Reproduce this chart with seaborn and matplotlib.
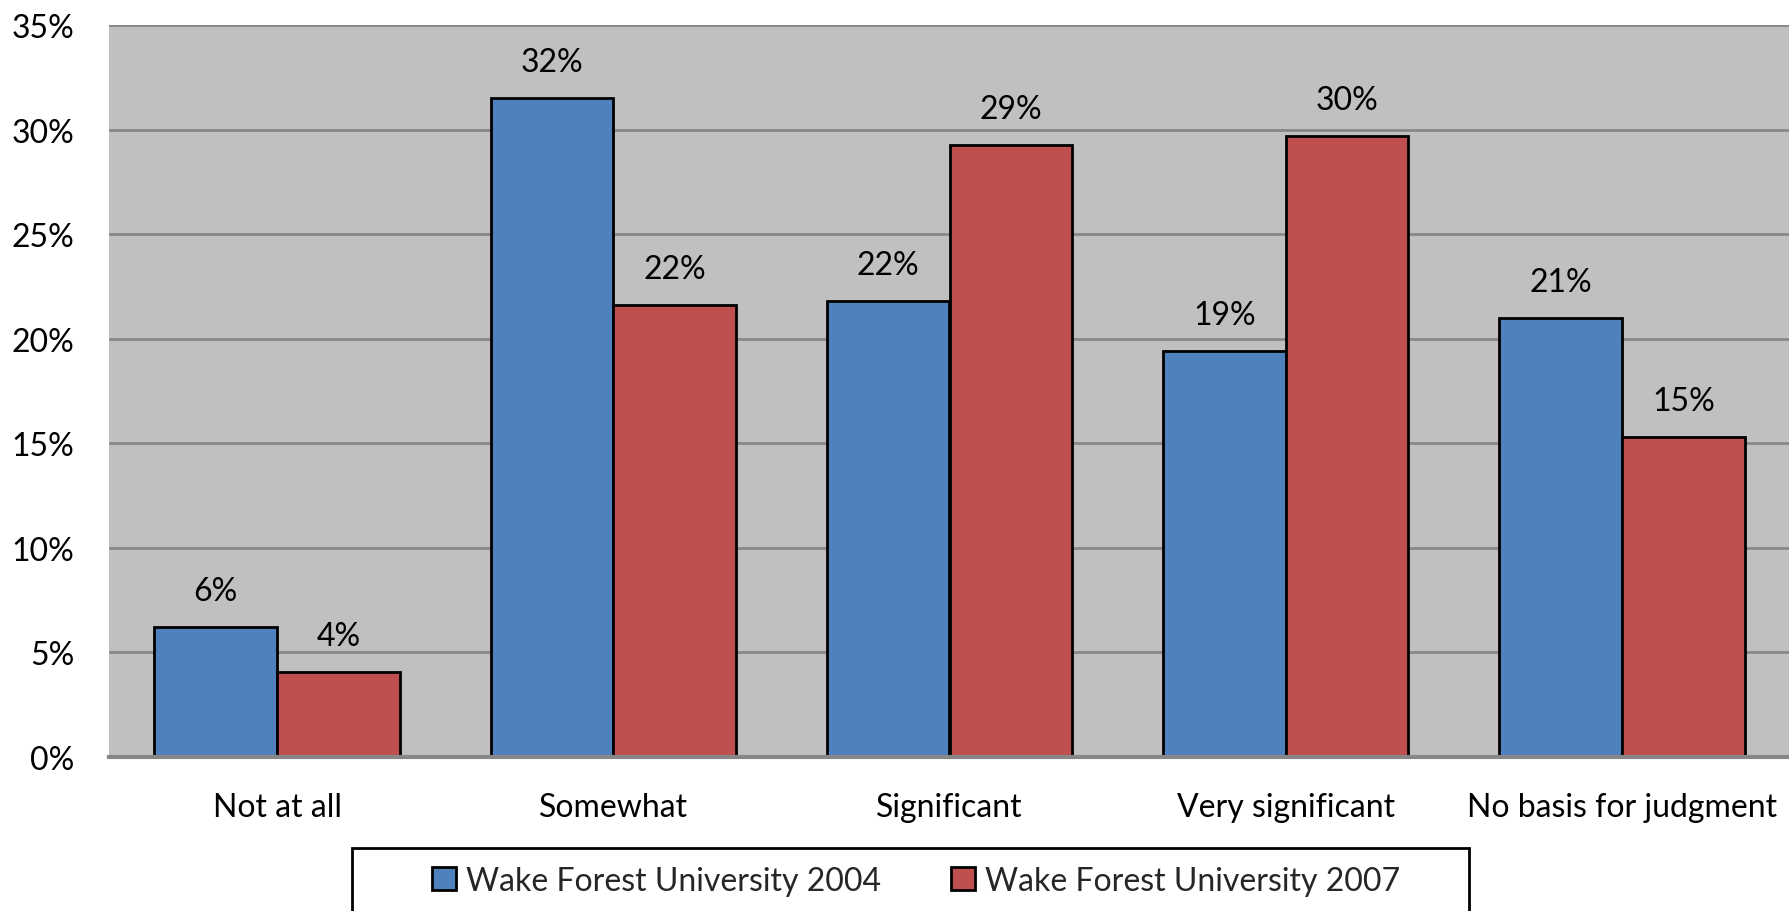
import matplotlib
matplotlib.use("Agg")
import matplotlib.pyplot as plt
import matplotlib.patches as mpatches
import seaborn as sns
import pandas as pd

categories = ["Not at all", "Somewhat", "Significant", "Very significant", "No basis for judgment"]
series_names = ["Wake Forest University 2004", "Wake Forest University 2007"]
values_2004 = [6.2, 31.5, 21.8, 19.4, 21.0]
values_2007 = [4.05, 21.6, 29.25, 29.7, 15.3]
labels_2004 = ["6%", "32%", "22%", "19%", "21%"]
labels_2007 = ["4%", "22%", "29%", "30%", "15%"]
yticks = [0, 5, 10, 15, 20, 25, 30, 35]
ytick_labels = ["0%", "5%", "10%", "15%", "20%", "25%", "30%", "35%"]

colors = ["#4f81bd", "#c0504d"]

df = pd.DataFrame({
    "category": categories * 2,
    "value": values_2004 + values_2007,
    "series": [series_names[0]] * len(categories) + [series_names[1]] * len(categories),
})

sns.set_theme(style="white")
plt.rcParams["font.family"] = ["Lato", "DejaVu Sans"]

W, H = 1790, 912
FS = 23
fig = plt.figure(figsize=(W / 100, H / 100), dpi=100)
ax = fig.add_axes([109 / W, 1 - 758 / H, (W - 109) / W, (758 - 26) / H])

sns.barplot(data=df, x="category", y="value", hue="series", order=categories,
            hue_order=series_names, palette=colors, saturation=1, width=0.73,
            edgecolor="black", linewidth=2, ax=ax, legend=False, errorbar=None)

ax.set_facecolor("#c0c0c0")
ax.set_ylim(0, 35)
ax.set_xlim(-0.5, 4.5)
ax.set_yticks(yticks)
ax.set_yticklabels(ytick_labels)
ax.yaxis.grid(True, color="#878787", linewidth=2)
ax.set_axisbelow(True)
for s in ["top", "right", "left"]:
    ax.spines[s].set_visible(False)
ax.spines["bottom"].set_color("#878787")
ax.spines["bottom"].set_linewidth(3)
ax.tick_params(axis="y", length=0, pad=25, labelsize=FS, labelcolor="black")
ax.tick_params(axis="x", length=0, pad=25, labelsize=FS, labelcolor="black")
ax.set_xlabel("")
ax.set_ylabel("")

for cont, labs in zip(ax.containers, [labels_2004, labels_2007]):
    ax.bar_label(cont, labels=labs, padding=15, fontsize=FS, color="black")

# legend frame
top = (H - 849) / H
rect = mpatches.Rectangle((352 / W, -0.05), (1469 - 352) / W, 0.05 + top,
                          transform=fig.transFigure, facecolor="white",
                          edgecolor="black", linewidth=2, clip_on=False)
fig.patches.append(rect)
handles = [mpatches.Patch(facecolor=c, edgecolor="black", linewidth=2) for c in colors]
fig.legend(handles, series_names, ncol=2, loc="center", bbox_to_anchor=(0.5117, 0.033),
           frameon=False, handlelength=0.75, handleheight=0.75, handletextpad=0.3,
           columnspacing=2.2, fontsize=FS)

fig.savefig("out.png", dpi=100)
